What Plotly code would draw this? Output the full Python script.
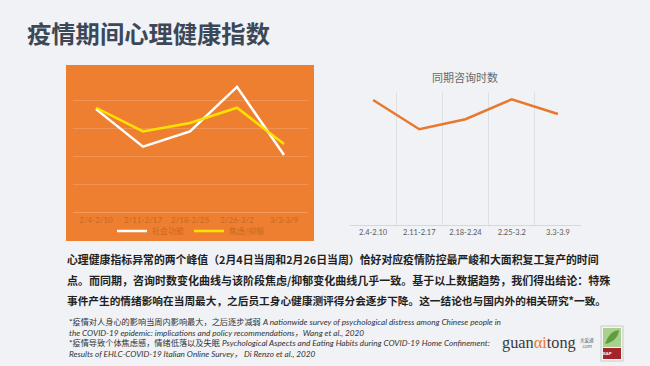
import plotly.graph_objects as go

# ---------------- data ----------------
left_categories = ["2/4-2/10", "2/11-2/17", "2/18-2/25", "2/26-3/2", "3/3-3/9"]
social_function = [3.7, 2.35, 2.9, 4.5, 2.05]
anxiety_depression = [3.75, 2.9, 3.2, 3.75, 2.45]
series_names = ["社会功能", "焦虑/抑郁"]

right_categories = ["2.4-2.10", "2.11-2.17", "2.18-2.24", "2.25-3.2", "3.3-3.9"]
consult_hours = [94, 72, 79.5, 94.5, 83.5]
right_title = "同期咨询时数"

page_title = "疫情期间心理健康指数"
paragraph_lines = [
    "心理健康指标异常的两个峰值（2月4日当周和2月26日当周）恰好对应疫情防控最严峻和大面积复工复产的时间",
    "点。而同期，咨询时数变化曲线与该阶段焦虑/抑郁变化曲线几乎一致。基于以上数据趋势，我们得出结论：特殊",
    "事件产生的情绪影响在当周最大，之后员工身心健康测评得分会逐步下降。这一结论也与国内外的相关研究*一致。",
]
paragraph_sizes = [10.86, 11.0, 10.68]
footnote_lines = [
    "*疫情对人身心的影响当周内影响最大，之后逐步减弱 <i>A nationwide survey of psychological distress among Chinese people in</i>",
    "<i>the COVID-19 epidemic: implications and policy recommendations，Wang et al., 2020</i>",
    "*疫情导致个体焦虑感，情绪低落以及失眠 <i>Psychological Aspects and Eating Habits during COVID-19 Home Confinement:</i>",
    "<i>Results of EHLC-COVID-19 Italian Online Survey， Di Renzo et al., 2020</i>",
]

# ---------------- helpers ----------------
W, H = 650, 366
def px(x):
    return x / W
def py(y):
    return 1 - y / H

CJK = "Noto Sans CJK SC"
ORANGE_BG = "#ee7f31"
LABEL_BROWN = "#c9681f"

fig = go.Figure()
fig.add_trace(go.Scatter(x=left_categories, y=social_function, mode="lines",
                         name=series_names[0], line=dict(color="#ffffff", width=2.5),
                         xaxis="x", yaxis="y"))
fig.add_trace(go.Scatter(x=left_categories, y=anxiety_depression, mode="lines",
                         name=series_names[1], line=dict(color="#ffe100", width=2.5),
                         xaxis="x", yaxis="y"))
fig.add_trace(go.Scatter(x=right_categories, y=consult_hours, mode="lines",
                         showlegend=False, line=dict(color="#e9782e", width=2.5),
                         xaxis="x2", yaxis="y2"))

shapes = [
    dict(type="rect", xref="paper", yref="paper", x0=px(66), x1=px(314), y0=py(241), y1=py(65),
         fillcolor=ORANGE_BG, line=dict(width=0), layer="below"),
    # EAP icon
    dict(type="rect", xref="paper", yref="paper", x0=px(601), x1=px(623), y0=py(361), y1=py(326),
         fillcolor="#f4f4f2", line=dict(color="#c9c9c4", width=1), layer="above"),
    dict(type="rect", xref="paper", yref="paper", x0=px(603), x1=px(621), y0=py(347), y1=py(328),
         fillcolor="#a9d08e", line=dict(width=0), layer="above"),
    dict(type="path", xref="paper", yref="paper",
         path=f"M {px(605)},{py(344)} Q {px(609)},{py(331)} {px(619)},{py(330)} Q {px(618)},{py(341)} {px(605)},{py(344)} Z",
         fillcolor="#5f9e3c", line=dict(width=0), layer="above"),
    dict(type="rect", xref="paper", yref="paper", x0=px(603), x1=px(621), y0=py(359), y1=py(348),
         fillcolor="#a3242b", line=dict(width=0), layer="above"),
]

annotations = [
    dict(text=page_title, x=px(25), y=py(33), xref="paper", yref="paper",
         xanchor="left", yanchor="middle", showarrow=False,
         font=dict(family=CJK, size=24.3, color="#3c4858", weight="bold")),
    dict(text=right_title, x=px(465), y=py(77), xref="paper", yref="paper",
         xanchor="center", yanchor="middle", showarrow=False,
         font=dict(family=CJK, size=11, color="#6a6a6a")),
]
for i, line in enumerate(paragraph_lines):
    annotations.append(dict(text=line, x=px(65), y=py(259 + 20.5 * i), xref="paper", yref="paper",
                            xanchor="left", yanchor="middle", showarrow=False,
                            font=dict(family=CJK, size=paragraph_sizes[i], color="#1f1f1f", weight="bold")))
for i, line in enumerate(footnote_lines):
    annotations.append(dict(text=line, x=px(67), y=py(322 + 10.6 * i), xref="paper", yref="paper",
                            xanchor="left", yanchor="middle", showarrow=False,
                            font=dict(family="Lato, " + CJK, size=8.2, color="#333333")))
annotations += [
    dict(text="guan<span style='color:#e8792b'>αi</span>tong", x=px(539), y=py(342),
         xref="paper", yref="paper", xanchor="center", yanchor="middle", showarrow=False,
         font=dict(family="Liberation Serif", size=16.3, color="#3a3a3a")),
    dict(text="关爱通<br>.com", x=px(587), y=py(343), xref="paper", yref="paper",
         xanchor="center", yanchor="middle", showarrow=False,
         font=dict(family=CJK, size=4.5, color="#666666")),
    dict(text="EAP", x=px(607), y=py(353), xref="paper", yref="paper",
         xanchor="center", yanchor="middle", showarrow=False,
         font=dict(family="Lato", size=4.5, color="#ffffff", weight="bold")),
]

fig.update_layout(
    width=W, height=H,
    margin=dict(l=0, r=0, t=0, b=0),
    paper_bgcolor="#f0f2f5",
    plot_bgcolor="rgba(0,0,0,0)",
    showlegend=True,
    legend=dict(orientation="h", x=px(191), xanchor="center", y=py(231), yanchor="middle",
                font=dict(family=CJK, size=8, color=LABEL_BROWN), bgcolor="rgba(0,0,0,0)",
                itemwidth=30, tracegroupgap=0),
    xaxis=dict(domain=[px(72.5), px(307.5)], type="category", range=[-0.5, 4.5],
               showgrid=False, showline=True, linecolor="rgba(255,255,255,0.22)", linewidth=1,
               ticks="", tickfont=dict(family="Lato", size=8, color=LABEL_BROWN), anchor="y",
               fixedrange=True),
    yaxis=dict(domain=[py(212), py(73)], range=[0, 5], dtick=1, showticklabels=False,
               gridcolor="rgba(255,255,255,0.16)", gridwidth=1, zeroline=False, anchor="x",
               fixedrange=True),
    xaxis2=dict(domain=[px(350), px(581)], type="category", range=[-0.5, 4.5],
                tickson="boundaries", showgrid=True, gridcolor="#dfe0e3", gridwidth=1,
                showline=True, linecolor="#d7d8db", ticks="",
                tickfont=dict(family="Lato", size=7.5, color="#595959"), anchor="y2",
                fixedrange=True),
    yaxis2=dict(domain=[py(225), py(92)], range=[0, 100], showgrid=False,
                showticklabels=False, zeroline=False, anchor="x2", fixedrange=True),
    shapes=shapes,
    annotations=annotations,
)

fig.write_html(
    "out.html",
    config={"displayModeBar": False},
    post_script="document.body.style.margin='0';document.body.style.overflow='hidden';"
                "document.body.style.background='#f0f2f5';",
)
